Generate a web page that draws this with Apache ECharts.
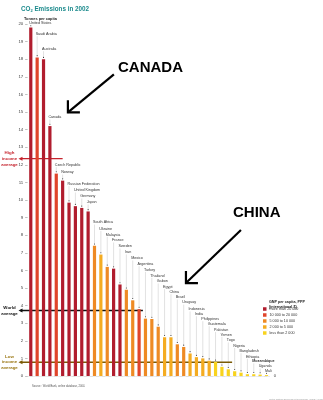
<!DOCTYPE html>
<html><head><meta charset="utf-8">
<script src="https://cdn.jsdelivr.net/npm/echarts/dist/echarts.min.js"></script>
<style>html,body{margin:0;padding:0;background:#fff}#c{width:323px;height:400px}</style>
</head><body><div id="c"></div>
<script>
const countries = ['United States','Saudi Arabia','Australia','Canada','Czech Republic','Norway','Russian Federation','United Kingdom','Germany','Japan','South Africa','Ukraine','Malaysia','France','Sweden','Iran','Mexico','Argentina','Turkey','Thailand','Gabon','Egypt','China','Brazil','Uruguay','Indonesia','India','Philippines','Guatemala','Pakistan','Yemen','Togo','Nigeria','Bangladesh','Ethiopia','Mozambique','Uganda','Mali'];
const co2 = [19.8,18.1,18.0,14.2,11.5,11.1,9.85,9.65,9.55,9.35,7.4,6.9,6.2,6.1,5.2,4.9,4.3,3.8,3.26,3.24,2.8,2.2,2.2,1.8,1.65,1.28,1.07,1.0,0.87,0.8,0.52,0.38,0.27,0.19,0.1,0.1,0.08,0.05];
const gnpClass = [0,1,0,0,1,0,0,0,0,0,2,3,2,0,0,2,2,1,2,2,2,3,3,2,2,3,3,3,3,4,4,4,4,4,4,4,4,4];
const classNames = ['more than 20 000','10 000 to 20 000','5 000 to 10 000','2 000 to 5 000','less than 2 000'];
const labelLevels = [20.05,19.43,18.58,14.7,11.99,11.57,10.91,10.55,10.21,9.87,8.73,8.37,8.03,7.71,7.37,7.03,6.69,6.36,6.04,5.70,5.38,5.06,4.77,4.47,4.18,3.79,3.52,3.24,2.95,2.63,2.35,2.03,1.72,1.42,1.10,0.84,0.55,0.28];
const avgNames = ['High\nincome\naverage','World\naverage','Low\nincome\naverage'];
const avgValues = [12.35,3.72,0.78];
const avgEndIndex = [5,17.6,31.6];

const classColors = ['#b11d2e','#e0452b','#ee8a24','#f4ac22','#f8d31e'];
const avgColors = ['#c5232d','#111111','#7a5a05'];
const avgTextColors = ['#c5232d','#111111','#9a7612'];
const FF = 'Liberation Sans, Arial, sans-serif';

const chart = echarts.init(document.getElementById('c'), null, {renderer:'canvas'});

const barSeries = classNames.map((nm,k)=>({
  type:'bar', name:nm, barWidth:3.2, barGap:'-100%',
  itemStyle:{color:classColors[k]},
  data: co2.map((v,i)=> gnpClass[i]===k ? v : '-'),
  markLine: k===0 ? {silent:true, symbol:'none', data:[{yAxis:0}],
    lineStyle:{color:'#aaa', width:0.6, type:'dotted'},
    label:{show:true, position:'end', formatter:'0', fontSize:4.2, color:'#444', fontFamily:FF, distance:4}} : undefined,
  animation:false
}));

const labelSeries = {
  type:'custom', name:'labels', animation:false, silent:true, clip:false,
  encode:{x:0,y:1},
  data: countries.map((c,i)=>[i, co2[i], labelLevels[i]]),
  renderItem(params, api){
    const i = api.value(0), v = api.value(1), lv = api.value(2);
    const p = api.coord([i, v]);
    const cx = p[0], top = p[1];
    const ly = api.coord([i, lv])[1];
    const ch = [];
    ch.push({type:'text', style:{text:countries[i], x:cx-1.5, y:ly, fontSize:3.7, fill:'#333', fontFamily:FF,
      fontWeight: countries[i]==='Mozambique' ? 'bold':'normal', verticalAlign:'middle', align:'left'}});
    if (top - 2 > ly + 2.2) ch.push({type:'line', shape:{x1:cx,y1:ly+2.2,x2:cx,y2:top-2}, style:{stroke:'#c4c4c4', lineWidth:0.5}});
    ch.push({type:'circle', shape:{cx:cx, cy:top-1.8, r:0.55}, style:{fill:'#333'}});
    return {type:'group', children:ch};
  }
};

const avgSeries = {
  type:'custom', name:'avg', animation:false, silent:true, clip:false,
  encode:{x:0,y:1},
  data: avgValues.map((v,k)=>[0, v, k]),
  renderItem(params, api){
    const k = api.value(2), v = api.value(1);
    const p = api.coord([0, v]);
    const pitch = api.size([1,0])[0];
    const y = p[1];
    const xEnd = p[0] + avgEndIndex[k]*pitch;
    const xTip = 18.5;
    return {type:'group', children:[
      {type:'line', shape:{x1:xTip+2, y1:y, x2:xEnd, y2:y}, style:{stroke:avgColors[k], lineWidth:1.4}},
      {type:'polygon', shape:{points:[[xTip,y],[xTip+4,y-2],[xTip+4,y+2]]}, style:{fill:avgColors[k]}},
      {type:'text', style:{text:avgNames[k], x:9.5, y:y, fontSize:4.4, lineHeight:5.7, fill:avgTextColors[k], fontFamily:FF,
        fontWeight:'bold', align:'center', verticalAlign:'middle'}}
    ]};
  }
};

chart.setOption({
  backgroundColor:'#fff',
  animation:false,
  title:[
    {text:'{a|CO}{s|2}{a| Emissions in 2002}', left:16, top:0.5,
      textStyle:{rich:{a:{fontSize:6.3, fontWeight:'bold', color:'#1b8a8c', fontFamily:FF}, s:{fontSize:4, fontWeight:'bold', color:'#1b8a8c', fontFamily:FF, padding:[3,0,0,0]}}}},
    {text:'Tonnes per capita', left:19, top:11.5, textStyle:{fontSize:3.9, fontWeight:'bold', color:'#222', fontFamily:FF}},
    {text:'GNP per capita, PPP\n(international $)', left:264, top:295, textStyle:{fontSize:3.7, fontWeight:'bold', color:'#222', fontFamily:FF, lineHeight:4.6}},
    {text:'Source : World Bank, online database, 2004.', left:27, top:379.5, textStyle:{fontSize:2.7, fontWeight:'normal', color:'#555', fontFamily:FF}},
    {text:'United Nations Environment Programme / GRID-Arendal', left:264, top:393, textStyle:{fontSize:2.2, fontWeight:'normal', color:'#999', fontFamily:FF}}
  ],
  legend:{data:classNames, orient:'vertical', left:263, top:307, itemWidth:3.5, itemHeight:3.5, itemGap:2,
    icon:'rect', selectedMode:false, padding:0, textStyle:{fontSize:3.7, color:'#333', fontFamily:FF, padding:[0,0,0,-2]}},
  grid:{left:27.6, right:53.3, top:24, bottom:24, containLabel:false},
  xAxis:{type:'category', data:countries, boundaryGap:true, axisLine:{show:false}, axisTick:{show:false}, axisLabel:{show:false}},
  yAxis:{type:'value', min:0, max:20, interval:1, splitLine:{show:false}, axisLine:{show:false},
    axisTick:{show:true, length:2.5, lineStyle:{color:'#999', width:0.6}},
    axisLabel:{fontSize:4.4, color:'#444', margin:4.3, fontFamily:FF}},
  series:[...barSeries, labelSeries, avgSeries]
});

// annotation arrows pointing at the Canada and China labels
const pc = chart.convertToPixel({gridIndex:0}, [3, labelLevels[3]]);
const pn = chart.convertToPixel({gridIndex:0}, [22, labelLevels[22]]);
const tipC = [pc[0]+18, pc[1]-5];
const tipN = [pn[0]+15, pn[1]-9];
function arrow(tip, tail){
  return [
    {type:'line', shape:{x1:tip[0],y1:tip[1],x2:tail[0],y2:tail[1]}, style:{stroke:'#000', lineWidth:2.2}},
    {type:'polyline', shape:{points:[[tip[0],tip[1]-12],[tip[0],tip[1]],[tip[0]+12,tip[1]]]}, style:{stroke:'#000', lineWidth:2.2, fill:null}}
  ];
}
chart.setOption({graphic:[
  ...arrow(tipC, [tipC[0]+46, tipC[1]-38]),
  {type:'text', left:118, top:60, style:{text:'CANADA', fontSize:15, fontWeight:'bold', fill:'#000', fontFamily:FF}},
  ...arrow(tipN, [tipN[0]+55, tipN[1]-53]),
  {type:'text', left:233, top:205, style:{text:'CHINA', fontSize:15, fontWeight:'bold', fill:'#000', fontFamily:FF}}
]});
</script></body></html>
